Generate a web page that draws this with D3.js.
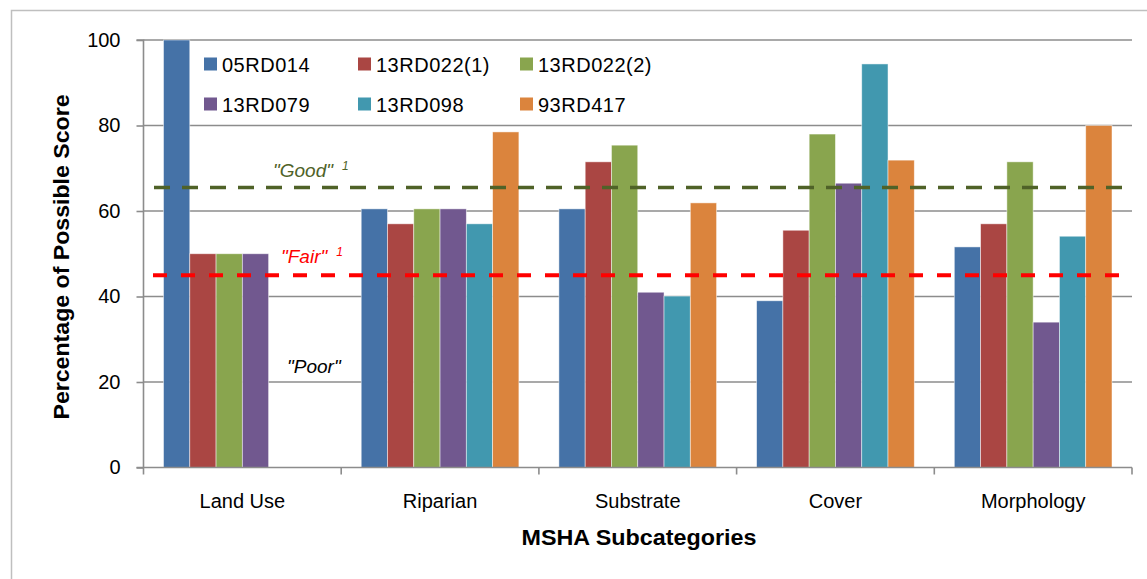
<!DOCTYPE html>
<html><head><meta charset="utf-8">
<script src="https://cdn.jsdelivr.net/npm/d3@7"></script>
<style>body{margin:0;background:#fff}svg{display:block}text{font-family:"Liberation Sans",Arial,sans-serif}</style>
</head><body><svg id="c" width="1147" height="579"></svg>
<script>
const categories = ["Land Use","Riparian","Substrate","Cover","Morphology"];
const seriesNames = ["05RD014","13RD022(1)","13RD022(2)","13RD079","13RD098","93RD417"];
const s05RD014  = [100, 60.5, 60.5, 39.0, 51.6];
const s13RD022a = [50, 57.0, 71.5, 55.5, 57.0];
const s13RD022b = [50, 60.5, 75.4, 78.0, 71.5];
const s13RD079  = [50, 60.5, 41.0, 66.5, 34.0];
const s13RD098  = [null, 57.0, 40.1, 94.4, 54.1];
const s93RD417  = [null, 78.5, 61.9, 71.9, 80.0];
const seriesValues = [s05RD014, s13RD022a, s13RD022b, s13RD079, s13RD098, s93RD417];
const colors = ["#4572A7","#AA4643","#89A54E","#71588F","#4198AF","#DB843D"];
const yTicks = [0,20,40,60,80,100];
const goodLevel = 65.5, fairLevel = 45;

const svg = d3.select("#c");
svg.append("rect").attr("x",11.5).attr("y",10.5).attr("width",1160).attr("height",600)
  .attr("fill","none").attr("stroke","#bfbfbf").attr("stroke-width",1.5);

const L=143.5, R=1132, T=40, B=467.5;
const x0 = d3.scaleBand().domain(categories).range([L,R]).paddingInner(0).paddingOuter(0);
const x1 = d3.scaleBand().domain(seriesNames).range([20, x0.bandwidth()-20]);
const y = d3.scaleLinear().domain([0,100]).range([B,T]);

svg.append("g").selectAll("line").data(yTicks.filter(d=>d>0)).join("line")
  .attr("x1",L).attr("x2",R).attr("y1",d=>y(d)).attr("y2",d=>y(d))
  .attr("stroke","#8c8c8c").attr("stroke-width",1.6);

const data = [];
categories.forEach((c,i)=>seriesNames.forEach((s,j)=>{
  const v = seriesValues[j][i];
  if (v!=null) data.push({c,s,v,j});
}));
svg.append("g").selectAll("rect").data(data).join("rect")
  .attr("x",d=>x0(d.c)+x1(d.s)).attr("width",x1.bandwidth())
  .attr("y",d=>y(d.v)).attr("height",d=>B-y(d.v))
  .attr("fill",d=>colors[d.j]).attr("stroke","rgba(255,255,255,0.6)").attr("stroke-width",0.8);

const yAxis = d3.axisLeft(y).tickValues(yTicks).tickSize(7).tickPadding(16);
const ga = svg.append("g").attr("transform",`translate(${L},0)`).call(yAxis);
ga.select(".domain").attr("stroke","#8c8c8c").attr("stroke-width",1.6).attr("d",`M-7,${T}H0V${B}`);
ga.selectAll(".tick line").attr("stroke","#8c8c8c").attr("stroke-width",1.6);
ga.selectAll(".tick text").attr("font-size",20).attr("fill","#000").attr("font-family","Liberation Sans, Arial, sans-serif");

const gx = svg.append("g").attr("transform",`translate(0,${B})`);
gx.append("line").attr("x1",L-7).attr("x2",R).attr("y1",0).attr("y2",0).attr("stroke","#8c8c8c").attr("stroke-width",1.6);
const bounds = categories.map(c=>x0(c)).concat([R]);
gx.selectAll("line.tk").data(bounds).join("line").attr("class","tk")
  .attr("x1",d=>d).attr("x2",d=>d).attr("y1",0).attr("y2",7).attr("stroke","#8c8c8c").attr("stroke-width",1.6);
gx.selectAll("text").data(categories).join("text")
  .attr("x",d=>x0(d)+x0.bandwidth()/2).attr("y",40).attr("text-anchor","middle")
  .attr("font-size",20).text(d=>d);

svg.append("line").attr("x1",154).attr("x2",1125).attr("y1",y(goodLevel)).attr("y2",y(goodLevel))
  .attr("stroke","#4F6228").attr("stroke-width",3.5).attr("stroke-dasharray","16,12");
svg.append("line").attr("x1",153).attr("x2",1125).attr("y1",y(fairLevel)).attr("y2",y(fairLevel))
  .attr("stroke","#FF0000").attr("stroke-width",4).attr("stroke-dasharray","14,14");

function label(xp,yp,txt,col,sup){
  const t = svg.append("text").attr("x",xp).attr("y",yp).attr("font-size",19).attr("font-style","italic").attr("fill",col);
  t.append("tspan").text(txt);
  if (sup) t.append("tspan").attr("dx",9).attr("dy",-7).attr("font-size",12).text(sup);
}
label(273,177,"\"Good\"","#4F6228","1");
label(281,263,"\"Fair\"","#FF0000","1");
label(287,373,"\"Poor\"","#000","");

const legX = [204,358,520], legY=[64,104];
const lg = svg.append("g");
seriesNames.forEach((s,i)=>{
  const cx = legX[i%3], cy = legY[Math.floor(i/3)];
  lg.append("rect").attr("x",cx).attr("y",cy-6.5).attr("width",13).attr("height",13).attr("fill",colors[i]);
  lg.append("text").attr("x",cx+18).attr("y",cy+7.5).attr("font-size",20).attr("letter-spacing",0.5).text(s);
});

svg.append("text").attr("transform","translate(69,257) rotate(-90)").attr("text-anchor","middle")
  .attr("font-size",22).attr("font-weight","bold").attr("textLength",325).attr("lengthAdjust","spacingAndGlyphs")
  .text("Percentage of Possible Score");
svg.append("text").attr("x",639).attr("y",545).attr("text-anchor","middle")
  .attr("font-size",22).attr("font-weight","bold").attr("textLength",235).attr("lengthAdjust","spacingAndGlyphs")
  .text("MSHA Subcategories");
</script></body></html>
